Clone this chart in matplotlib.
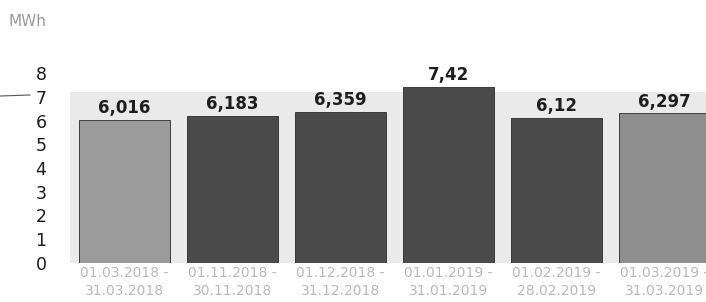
import matplotlib
matplotlib.use('Agg')
import matplotlib.pyplot as plt
import numpy as np

periods = ['01.03.2018 -\n31.03.2018', '01.11.2018 -\n30.11.2018', '01.12.2018 -\n31.12.2018',
           '01.01.2019 -\n31.01.2019', '01.02.2019 -\n28.02.2019', '01.03.2019 -\n31.03.2019']
values = [6.016, 6.183, 6.359, 7.42, 6.12, 6.297]
value_labels = ['6,016', '6,183', '6,359', '7,42', '6,12', '6,297']
bar_colors = ['#9b9b9b', '#4b4b4b', '#4b4b4b', '#4b4b4b', '#4b4b4b', '#8e8e8e']

W, H = 706, 302
fig = plt.figure(figsize=(W / 100, H / 100), dpi=100)
ax = fig.add_axes([70 / W, 39 / H, 636 / W, 190 / H])

x = np.arange(len(values))
# light grey band behind the bars (scan shading)
ax.axhspan(0, 7.2, color='#eaeaea', zorder=0, lw=0)
ax.bar(x, values, width=0.85, color=bar_colors, edgecolor='#2a2a2a', linewidth=0.6, zorder=2)

for xi, v, lab in zip(x, values, value_labels):
    ax.text(xi, v + 0.12, lab, ha='center', va='bottom', fontsize=12,
            fontweight='bold', color='#1e1e1e', zorder=3)

ax.set_xlim(-0.505, 5.384)
ax.set_ylim(0, 8)
ax.set_yticks(range(9))
ax.tick_params(axis='y', length=0, pad=17, labelsize=12.5, labelcolor='#1a1a1a')
ax.set_xticks(x)
ax.set_xticklabels(periods, fontsize=10, color='#b8b8b8', linespacing=1.35)
ax.tick_params(axis='x', length=0, pad=2)
for s in ax.spines.values():
    s.set_visible(False)
ax.set_facecolor('none')

fig.text(8 / W, 1 - 22 / H, 'MWh', fontsize=11, color='#9a9a9a', va='center', ha='left')
fig.add_artist(plt.Line2D([0, 30 / W], [1 - 96 / H, 1 - 95 / H], color='#555555', lw=0.8))

fig.savefig('out.png', dpi=100, facecolor='white')
